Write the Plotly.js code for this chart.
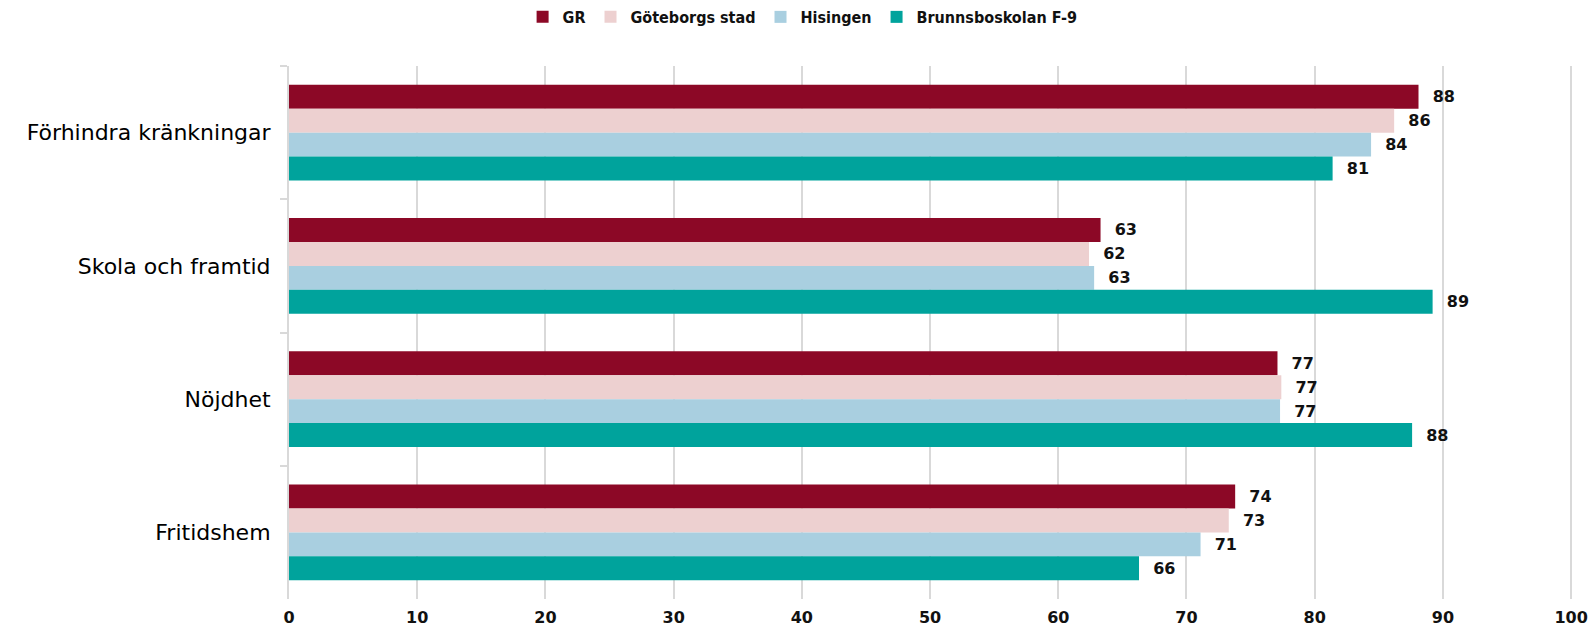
<!DOCTYPE html>
<html><head><meta charset="utf-8">
<script src="https://cdn.plot.ly/plotly-3.0.1.min.js"></script>
<style>html,body{margin:0;padding:0;background:#fff}#chart{width:1593px;height:630px}</style>
</head><body><div id="chart"></div>
<script>
const categories = ["Förhindra kränkningar", "Skola och framtid", "Nöjdhet", "Fritidshem"];
const seriesNames = ["GR", "Göteborgs stad", "Hisingen", "Brunnsboskolan F-9"];
const gr = [88.1, 63.3, 77.1, 73.8];
const goteborg = [86.2, 62.4, 77.4, 73.3];
const hisingen = [84.4, 62.8, 77.3, 71.1];
const brunnsbo = [81.4, 89.2, 87.6, 66.3];
const xTicks = [0, 10, 20, 30, 40, 50, 60, 70, 80, 90, 100];
const colors = ["#8C0826", "#EDD0D0", "#A9CFE0", "#00A39C"];

const allValues = [gr, goteborg, hisingen, brunnsbo];
const traces = allValues.map((vals, i) => ({
  type: "bar",
  orientation: "h",
  name: seriesNames[i],
  y: categories,
  x: vals,
  marker: {color: colors[i]},
  texttemplate: "  %{x:.0f}",
  textposition: "outside",
  cliponaxis: false,
  textfont: {family: "DejaVu Sans", size: 16, color: "#111", weight: 700},
  hoverinfo: "x+name"
}));

const layout = {
  width: 1593, height: 630,
  margin: {l: 289, r: 20, t: 66, b: 31, autoexpand: false},
  barmode: "group",
  bargap: 0.28,
  bargroupgap: 0,
  paper_bgcolor: "#fff",
  plot_bgcolor: "#fff",
  showlegend: true,
  legend: {orientation: "h", x: 0.4, xanchor: "center", y: 1.092, yanchor: "middle",
    font: {family: "DejaVu Sans Condensed", size: 16, color: "#111", weight: 700},
    itemwidth: 30, traceorder: "normal"},
  xaxis: {range: [0, 100.15], tickvals: xTicks, ticktext: xTicks.map(String),
    showgrid: true, gridcolor: "#d9d9d9", gridwidth: 2, zeroline: false, showline: false,
    ticks: "", tickfont: {family: "DejaVu Sans", size: 16, color: "#111", weight: 700},
    ticklabelstandoff: 7},
  yaxis: {type: "category", autorange: "reversed", tickson: "boundaries",
    ticks: "outside", ticklen: 7, tickcolor: "#d9d9d9", tickwidth: 2,
    showline: true, linecolor: "#d9d9d9", linewidth: 2, showgrid: false,
    tickfont: {family: "DejaVu Sans", size: 22, color: "#000", weight: 400},
    ticklabelstandoff: 12}
};
Plotly.newPlot("chart", traces, layout, {displayModeBar: false, staticPlot: true});
</script></body></html>
